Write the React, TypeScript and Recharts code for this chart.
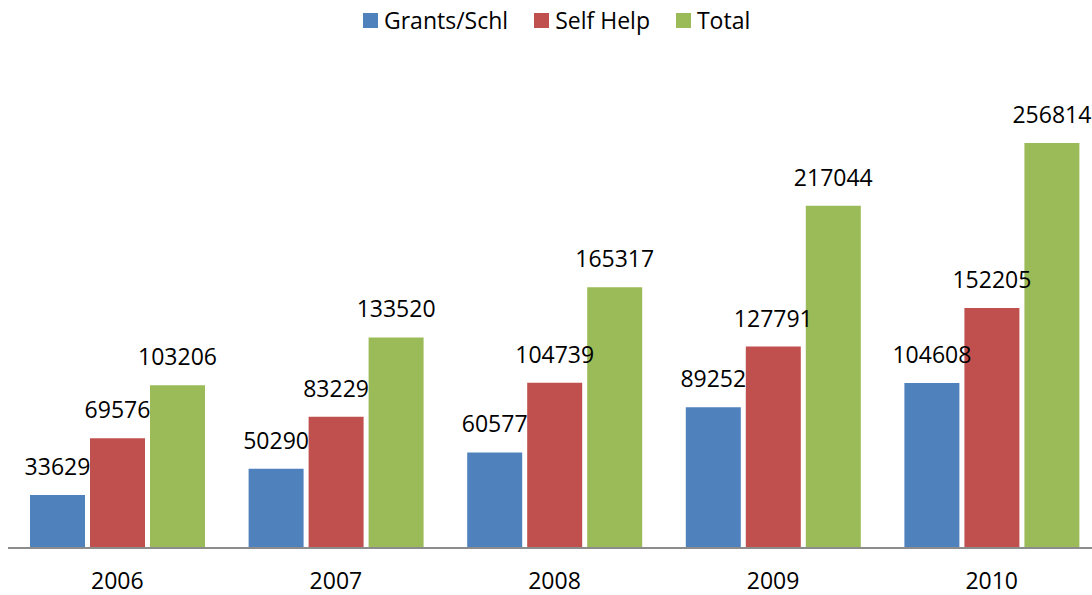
import React from 'react';
import { BarChart, Bar, XAxis, YAxis, Legend, LabelList } from 'recharts';

const years = ['2006', '2007', '2008', '2009', '2010'];
const grantsSchl = [33629, 50290, 60577, 89252, 104608];
const selfHelp = [69576, 83229, 104739, 127791, 152205];
const total = [103206, 133520, 165317, 217044, 256814];

const data = years.map((year, i) => ({
  year,
  grants: grantsSchl[i],
  self: selfHelp[i],
  total: total[i],
}));

const FONT = "'Open Sans', sans-serif";

const legendItems = [
  { label: 'Grants/Schl', color: '#4F81BD' },
  { label: 'Self Help', color: '#C0504D' },
  { label: 'Total', color: '#9BBB59' },
];

const ChartLegend = () => (
  <div style={{ display: 'flex', alignItems: 'center', paddingLeft: 363, height: 40, fontFamily: FONT, fontSize: 23, color: '#000' }}>
    {legendItems.map((it) => (
      <div key={it.label} style={{ display: 'flex', alignItems: 'center', marginRight: 26 }}>
        <span style={{ width: 15, height: 15, background: it.color, marginRight: 6, display: 'inline-block' }} />
        <span>{it.label}</span>
      </div>
    ))}
  </div>
);

const labelStyle = { fontFamily: FONT, fontSize: 23, fill: '#000' };

export default function App() {
  return (
    <div style={{ position: 'fixed', left: 0, top: 0, width: 1092, height: 595, overflow: 'hidden', background: '#fff' }}>
      <BarChart
        width={1101}
        height={595}
        data={data}
        margin={{ top: 35, right: 0, bottom: 0, left: 8 }}
        barSize={55}
        barGap={5}
      >
        <Legend verticalAlign="top" height={40} content={() => <ChartLegend />} wrapperStyle={{ top: 0, left: 0 }} />
        <XAxis
          dataKey="year"
          height={47}
          tickLine={false}
          tickSize={0}
          tickMargin={25}
          axisLine={{ stroke: '#8C8C8C', strokeWidth: 2 }}
          tick={{ fontFamily: FONT, fontSize: 23, fill: '#000' }}
        />
        <YAxis hide domain={[0, 300000]} />
        <Bar dataKey="grants" fill="#4F81BD" isAnimationActive={false}>
          <LabelList dataKey="grants" position="top" offset={20} style={labelStyle} />
        </Bar>
        <Bar dataKey="self" fill="#C0504D" isAnimationActive={false}>
          <LabelList dataKey="self" position="top" offset={20} style={labelStyle} />
        </Bar>
        <Bar dataKey="total" fill="#9BBB59" isAnimationActive={false}>
          <LabelList dataKey="total" position="top" offset={20} style={labelStyle} />
        </Bar>
      </BarChart>
    </div>
  );
}
